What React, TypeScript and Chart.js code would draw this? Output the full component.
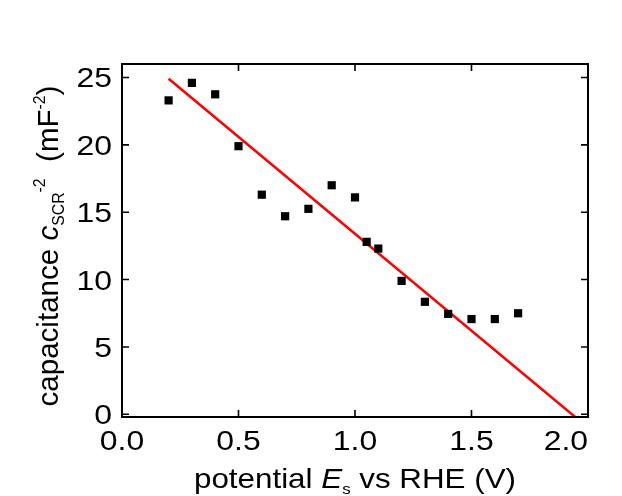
import React, { useEffect, useRef } from "react";
import { Chart, registerables } from "chart.js";

Chart.register(...registerables);

// ---- data ----
const potentials = [0.2, 0.3, 0.4, 0.5, 0.6, 0.7, 0.8, 0.9, 1.0, 1.05, 1.1, 1.2, 1.3, 1.4, 1.5, 1.6, 1.7];
const invCapSquared = [23.3, 24.6, 23.75, 19.9, 16.3, 14.7, 15.25, 17.0, 16.1, 12.8, 12.3, 9.9, 8.35, 7.45, 7.07, 7.07, 7.5];
const fitPotentials = [0.2, 1.945];
const fitValues = [24.9, -0.2];
const xTickValues = [0, 0.5, 1.0, 1.5, 2.0];
const xTickLabels = ["0.0", "0.5", "1.0", "1.5", "2.0"];
const yTickValues = [0, 5, 10, 15, 20, 25];
const yTickLabels = ["0", "5", "10", "15", "20", "25"];

const FAMILY = '"Liberation Sans", Arial, Helvetica, sans-serif';
const BASE = 28;
const STRETCH = 1.14;

type Seg = { t: string; italic?: boolean; pos?: "sub" | "sup" };

const xTitle: Seg[] = [
  { t: "potential " },
  { t: "E", italic: true },
  { t: "s", pos: "sub" },
  { t: " vs RHE (V)" },
];
const yTitle: Seg[] = [
  { t: "capacitance " },
  { t: "c", italic: true },
  { t: "SCR", pos: "sub" },
  { t: "-2", pos: "sup" },
  { t: "  (mF" },
  { t: "-2", pos: "sup" },
  { t: ")" },
];

function segFont(s: Seg, base: number) {
  const size = s.pos ? Math.round(base * 0.55) : base;
  return `${s.italic ? "italic " : ""}${size}px ${FAMILY}`;
}

function drawRich(ctx: CanvasRenderingContext2D, segs: Seg[], cx: number, baseY: number, base: number) {
  const widths = segs.map((s) => {
    ctx.font = segFont(s, base);
    return ctx.measureText(s.t).width;
  });
  const total = widths.reduce((a, b) => a + b, 0);
  let x = cx - total / 2;
  ctx.textAlign = "left";
  ctx.textBaseline = "alphabetic";
  ctx.fillStyle = "#000";
  segs.forEach((s, i) => {
    ctx.font = segFont(s, base);
    const dy = s.pos === "sub" ? base * 0.2 : s.pos === "sup" ? -base * 0.42 : 0;
    ctx.fillText(s.t, x, baseY + dy);
    x += widths[i];
  });
}

function drawLabel(ctx: CanvasRenderingContext2D, text: string, x: number, y: number, align: CanvasTextAlign) {
  ctx.save();
  ctx.translate(x, y);
  ctx.scale(STRETCH, 1);
  ctx.font = `${BASE}px ${FAMILY}`;
  ctx.textAlign = align;
  ctx.textBaseline = "alphabetic";
  ctx.fillStyle = "#000";
  ctx.fillText(text, 0, 0);
  ctx.restore();
}

const framePlugin = {
  id: "frameAndTitles",
  afterDatasetsDraw(chart: any) {
    const { ctx, chartArea } = chart;
    const xs = chart.scales.x;
    const ys = chart.scales.y;
    const { left, right, top, bottom } = chartArea;
    const TL = 7;
    ctx.save();
    ctx.strokeStyle = "#000";
    ctx.lineWidth = 1.6;
    ctx.beginPath();
    xTickValues.forEach((v) => {
      const px = xs.getPixelForValue(v);
      ctx.moveTo(px, bottom);
      ctx.lineTo(px, bottom - TL);
      ctx.moveTo(px, top);
      ctx.lineTo(px, top + TL);
    });
    yTickValues.forEach((v) => {
      const py = ys.getPixelForValue(v);
      ctx.moveTo(left, py);
      ctx.lineTo(left + TL, py);
      ctx.moveTo(right, py);
      ctx.lineTo(right - TL, py);
    });
    ctx.stroke();
    ctx.lineWidth = 2;
    ctx.strokeRect(left, top, right - left, bottom - top);
    ctx.restore();
  },
  afterDraw(chart: any) {
    const { ctx, chartArea } = chart;
    const xs = chart.scales.x;
    const ys = chart.scales.y;
    ctx.save();
    // tick labels
    xTickValues.forEach((v, i) => {
      const px = xs.getPixelForValue(v);
      const last = i === xTickValues.length - 1;
      if (last) drawLabel(ctx, xTickLabels[i], chartArea.right, 450, "right");
      else drawLabel(ctx, xTickLabels[i], px, 450, "center");
    });
    yTickValues.forEach((v, i) => {
      const py = ys.getPixelForValue(v);
      drawLabel(ctx, yTickLabels[i], chartArea.left - 10, py + 10, "right");
    });
    // x title
    ctx.save();
    ctx.translate((chartArea.left + chartArea.right) / 2, 488);
    ctx.scale(1.12, 1);
    drawRich(ctx, xTitle, 0, 0, BASE);
    ctx.restore();
    // y title
    ctx.save();
    ctx.translate(58, 246);
    ctx.rotate(-Math.PI / 2);
    ctx.scale(1.055, 1.08);
    drawRich(ctx, yTitle, 0, 0, BASE);
    ctx.restore();
    ctx.restore();
  },
};

export default function App() {
  const canvasRef = useRef<HTMLCanvasElement | null>(null);

  useEffect(() => {
    const canvas = canvasRef.current;
    if (!canvas) return;
    const chart = new Chart(canvas, {
      type: "scatter",
      data: {
        datasets: [
          {
            label: "data",
            data: potentials.map((x, i) => ({ x, y: invCapSquared[i] })),
            pointStyle: "rect",
            pointRadius: 5.8,
            pointHoverRadius: 5.8,
            backgroundColor: "#000",
            borderColor: "#000",
            borderWidth: 0,
            showLine: false,
            order: 0,
          },
          {
            label: "fit",
            type: "line",
            data: fitPotentials.map((x, i) => ({ x, y: fitValues[i] })),
            borderColor: "#ff0000",
            borderWidth: 2.5,
            pointRadius: 0,
            fill: false,
            tension: 0,
            order: 1,
          } as any,
        ],
      },
      options: {
        animation: false,
        responsive: false,
        maintainAspectRatio: false,
        devicePixelRatio: 1,
        layout: { padding: { top: 64, right: 34, left: 0, bottom: 0 } },
        plugins: { legend: { display: false }, tooltip: { enabled: false } },
        scales: {
          x: {
            type: "linear",
            min: 0,
            max: 2.0,
            afterBuildTicks: (s: any) => {
              s.ticks = xTickValues.map((v) => ({ value: v }));
            },
            afterFit: (s: any) => {
              s.height = 79;
              s.paddingLeft = 0;
              s.paddingRight = 0;
            },
            grid: { display: false, drawTicks: false },
            border: { display: false },
            ticks: { display: false },
            title: { display: false },
          },
          y: {
            type: "linear",
            min: -0.2,
            max: 26,
            afterBuildTicks: (s: any) => {
              s.ticks = yTickValues.map((v) => ({ value: v }));
            },
            afterFit: (s: any) => {
              s.width = 122;
              s.paddingTop = 0;
              s.paddingBottom = 0;
            },
            grid: { display: false, drawTicks: false },
            border: { display: false },
            ticks: { display: false },
            title: { display: false },
          },
        },
      },
      plugins: [framePlugin],
    });
    return () => chart.destroy();
  }, []);

  return (
    <div style={{ position: "absolute", left: 0, top: 0, width: 622, height: 496, background: "#fff" }}>
      <canvas ref={canvasRef} width={622} height={496} style={{ width: 622, height: 496, display: "block" }} />
    </div>
  );
}
